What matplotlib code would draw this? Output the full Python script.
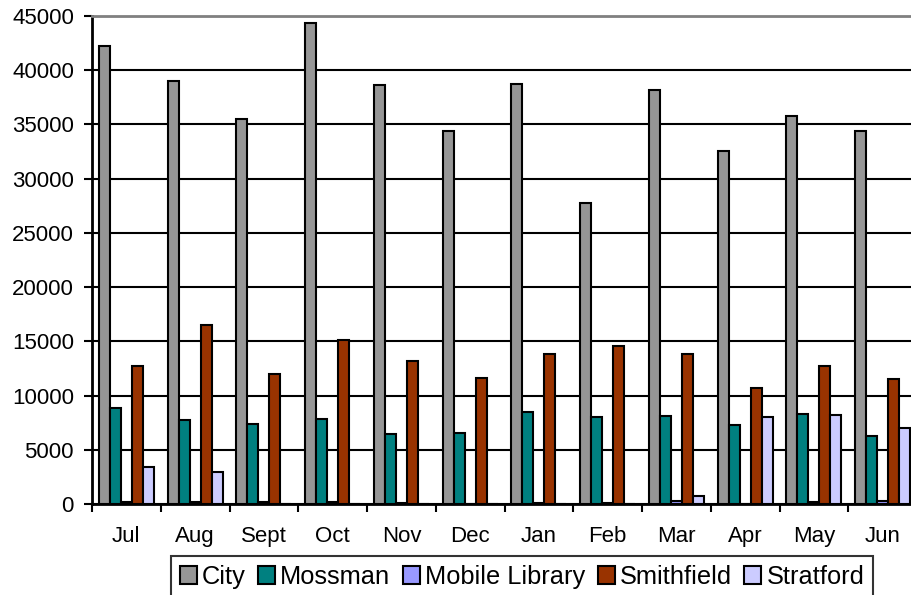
import matplotlib
matplotlib.use("Agg")
import matplotlib.pyplot as plt
import numpy as np

months = ["Jul", "Aug", "Sept", "Oct", "Nov", "Dec", "Jan", "Feb", "Mar", "Apr", "May", "Jun"]
city = [42200, 39000, 35500, 44400, 38650, 34400, 38750, 27750, 38200, 32550, 35800, 34350]
mossman = [8880, 7750, 7400, 7840, 6460, 6580, 8520, 8050, 8150, 7250, 8330, 6270]
mobile_library = [150, 200, 150, 150, 100, 0, 100, 100, 250, 0, 200, 250]
smithfield = [12700, 16550, 11950, 15150, 13150, 11650, 13800, 14570, 13850, 10670, 12750, 11550]
stratford = [3440, 2920, 0, 0, 0, 0, 0, 0, 740, 8050, 8180, 7040]

series = [("City", city, "#969696"),
          ("Mossman", mossman, "#008080"),
          ("Mobile Library", mobile_library, "#9999FF"),
          ("Smithfield", smithfield, "#993300"),
          ("Stratford", stratford, "#CCCCFF")]

plt.rcParams['font.family'] = ['Liberation Sans', 'DejaVu Sans']

W, H = 911, 595
fig = plt.figure(figsize=(W / 100, H / 100), dpi=100)
ax = fig.add_axes([92 / W, (H - 504) / H, 825 / W, 488 / H])

x = np.arange(len(months)) + 0.5
bw = 0.16
for k, (name, vals, col) in enumerate(series):
    ax.bar(x + (k - 2) * bw, vals, bw, color=col, edgecolor="black", linewidth=1.5,
           label=name, zorder=3)

ax.set_xlim(0, 12)
ax.set_ylim(0, 45000)
ax.set_yticks(np.arange(0, 45001, 5000))
ax.yaxis.grid(True, color="black", linewidth=1.5, zorder=0)
ax.set_axisbelow(True)

ax.set_xticks(np.arange(0, 13))
ax.set_xticklabels([])
ax.set_xticks(x, minor=True)
ax.set_xticklabels(months, minor=True)
ax.tick_params(axis="x", which="minor", length=0, pad=16, labelsize=16)
ax.tick_params(axis="x", which="major", length=6, width=1.5, direction="out")
ax.tick_params(axis="y", length=6, width=1.5, direction="out", labelsize=16, pad=7)

ax.spines["top"].set_color("#808080")
ax.spines["top"].set_linewidth(2)
ax.spines["right"].set_visible(False)
ax.spines["left"].set_linewidth(2)
ax.spines["bottom"].set_linewidth(2)

leg = fig.legend(loc="upper center", bbox_to_anchor=(522 / W, 1 - 556 / H), ncol=5,
                 fontsize=18.3, frameon=True, fancybox=False, edgecolor="black",
                 handlelength=0.66, handleheight=0.66, handletextpad=0.2,
                 columnspacing=0.5, borderpad=0.35, borderaxespad=0)
leg.get_frame().set_linewidth(1.5)

fig.savefig("out.png", dpi=100)
